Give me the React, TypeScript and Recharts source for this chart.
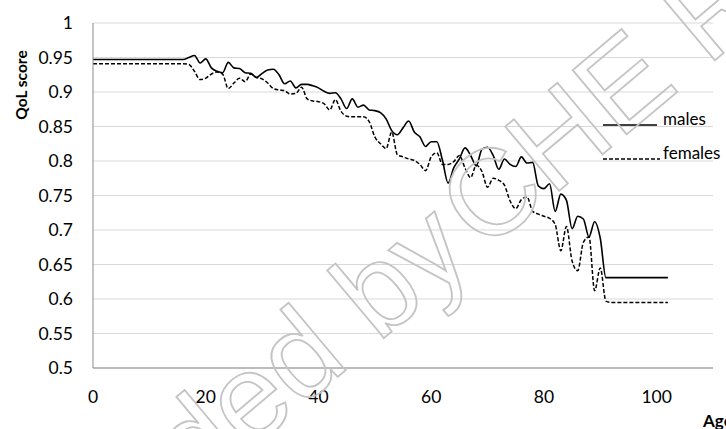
import React from "react"
import { LineChart, Line, XAxis, YAxis, CartesianGrid } from "recharts"

// age in years, one point per year
const ages = [
  0, 1, 2, 3, 4, 5, 6, 7, 8, 9, 10, 11, 12, 13, 14, 15, 16, 17, 18, 19, 20,
  21, 22, 23, 24, 25, 26, 27, 28, 29, 30, 31, 32, 33, 34, 35, 36, 37, 38, 39, 40,
  41, 42, 43, 44, 45, 46, 47, 48, 49, 50, 51, 52, 53, 54, 55, 56, 57, 58, 59, 60,
  61, 62, 63, 64, 65, 66, 67, 68, 69, 70, 71, 72, 73, 74, 75, 76, 77, 78, 79, 80,
  81, 82, 83, 84, 85, 86, 87, 88, 89, 90, 91, 92, 93, 94, 95, 96, 97, 98, 99, 100,
  101, 102,
]

const males = [
  0.947, 0.947, 0.947, 0.947, 0.947, 0.947, 0.947, 0.947, 0.947, 0.947, 0.947,
  0.947, 0.947, 0.947, 0.947, 0.947, 0.947, 0.95, 0.953, 0.942, 0.948,
  0.935, 0.93, 0.928, 0.943, 0.935, 0.934, 0.928, 0.927, 0.921, 0.927,
  0.932, 0.933, 0.925, 0.912, 0.916, 0.906, 0.911, 0.911, 0.909, 0.906,
  0.901, 0.898, 0.899, 0.89, 0.876, 0.89, 0.878, 0.881, 0.874, 0.873,
  0.87, 0.861, 0.844, 0.838, 0.848, 0.858, 0.842, 0.835, 0.821, 0.828,
  0.828, 0.801, 0.768, 0.79, 0.803, 0.819, 0.808, 0.793, 0.817, 0.82,
  0.808, 0.788, 0.803, 0.795, 0.792, 0.806, 0.797, 0.798, 0.764, 0.76,
  0.767, 0.727, 0.752, 0.743, 0.702, 0.72, 0.716, 0.69, 0.712, 0.688,
  0.631, 0.631, 0.631, 0.631, 0.631, 0.631, 0.631, 0.631, 0.631, 0.631,
  0.631, 0.631,
]

const females = [
  0.941, 0.941, 0.941, 0.941, 0.941, 0.941, 0.941, 0.941, 0.941, 0.941, 0.941,
  0.941, 0.941, 0.941, 0.941, 0.941, 0.941, 0.94, 0.93, 0.918, 0.92,
  0.926, 0.929, 0.926, 0.905, 0.913, 0.92, 0.915, 0.926, 0.921, 0.919,
  0.913, 0.905, 0.903, 0.902, 0.897, 0.898, 0.907, 0.89, 0.887, 0.886,
  0.883, 0.874, 0.889, 0.872, 0.865, 0.864, 0.864, 0.864, 0.857, 0.835,
  0.825, 0.818, 0.842, 0.809, 0.806, 0.803, 0.801, 0.795, 0.786, 0.806,
  0.812, 0.795, 0.795, 0.799, 0.808, 0.79, 0.776, 0.794, 0.785, 0.762,
  0.775, 0.772, 0.765, 0.742, 0.731, 0.744, 0.748, 0.727, 0.723, 0.72,
  0.717, 0.708, 0.67, 0.705, 0.655, 0.641, 0.682, 0.69, 0.612, 0.645,
  0.597, 0.595, 0.595, 0.595, 0.595, 0.595, 0.595, 0.595, 0.595, 0.595,
  0.595, 0.595,
]

const xTicks = [0, 20, 40, 60, 80, 100]
const yTicks = [0.5, 0.55, 0.6, 0.65, 0.7, 0.75, 0.8, 0.85, 0.9, 0.95, 1]

const data = ages.map((age, i) => ({ age, males: males[i], females: females[i] }))

const FONT = "Lato, 'Open Sans', sans-serif"
const AXIS = "#8c8c8c"
const GRID = "#d9d9d9"

export default function App() {
  return (
    <div
      style={{
        position: "absolute",
        left: 0,
        top: 0,
        width: 726,
        height: 429,
        overflow: "hidden",
        background: "#fff",
        fontFamily: FONT,
      }}
    >
      <LineChart width={726} height={429} data={data} margin={{ top: 23, right: 13, bottom: 21, left: 0 }}>
        <CartesianGrid vertical={false} stroke={GRID} />
        <XAxis
          dataKey="age"
          type="number"
          domain={[0, 110]}
          ticks={xTicks}
          allowDataOverflow
          height={40}
          tickLine={false}
          axisLine={{ stroke: AXIS }}
          tickMargin={17}
          tick={{ fill: "#000", fontSize: 17.5, fontFamily: FONT }}
        />
        <YAxis
          type="number"
          domain={[0.5, 1]}
          ticks={yTicks}
          allowDataOverflow
          width={93}
          tickLine={false}
          axisLine={{ stroke: AXIS }}
          tickMargin={14}
          tick={{ fill: "#000", fontSize: 17.5, fontFamily: FONT }}
        />
        <Line
          type="monotone"
          dataKey="males"
          stroke="#000"
          strokeWidth={1.6}
          dot={false}
          activeDot={false}
          isAnimationActive={false}
        />
        <Line
          type="monotone"
          dataKey="females"
          stroke="#000"
          strokeWidth={1.5}
          strokeDasharray="4 2"
          dot={false}
          activeDot={false}
          isAnimationActive={false}
        />
      </LineChart>

      {/* axis titles, legend and the watermark sit on top */}
      <svg
        width={726}
        height={429}
        style={{ position: "absolute", left: 0, top: 0, pointerEvents: "none" }}
        fontFamily={FONT}
      >
        <text
          x={21}
          y={85}
          transform="rotate(-90 21 85)"
          textAnchor="middle"
          dominantBaseline="central"
          fontSize={15.5}
          fontWeight="bold"
        >
          QoL score
        </text>
        <text x={703} y={420} dominantBaseline="central" fontSize={17} fontWeight="bold">
          Age
        </text>

        <line x1={603} x2={657} y1={125} y2={125} stroke="#000" strokeWidth={1.6} />
        <text x={663} y={118} dominantBaseline="central" fontSize={17}>
          males
        </text>
        <line x1={603} x2={660} y1={159} y2={159} stroke="#000" strokeWidth={1.5} strokeDasharray="4 2" />
        <text x={663} y={152} dominantBaseline="central" fontSize={17}>
          females
        </text>

        <g transform="translate(484 254) rotate(-40)" fill="none" stroke="#c4c4c4" strokeWidth={1.8}>
          <text x={-10} y={0} textAnchor="end" fontSize={122} fontFamily="'Liberation Sans', sans-serif">
            Downloaded by
          </text>
          <text x={0} y={0} fontSize={122} fontFamily="'Liberation Sans', sans-serif">
            CHE Research
          </text>
        </g>
      </svg>
    </div>
  )
}
